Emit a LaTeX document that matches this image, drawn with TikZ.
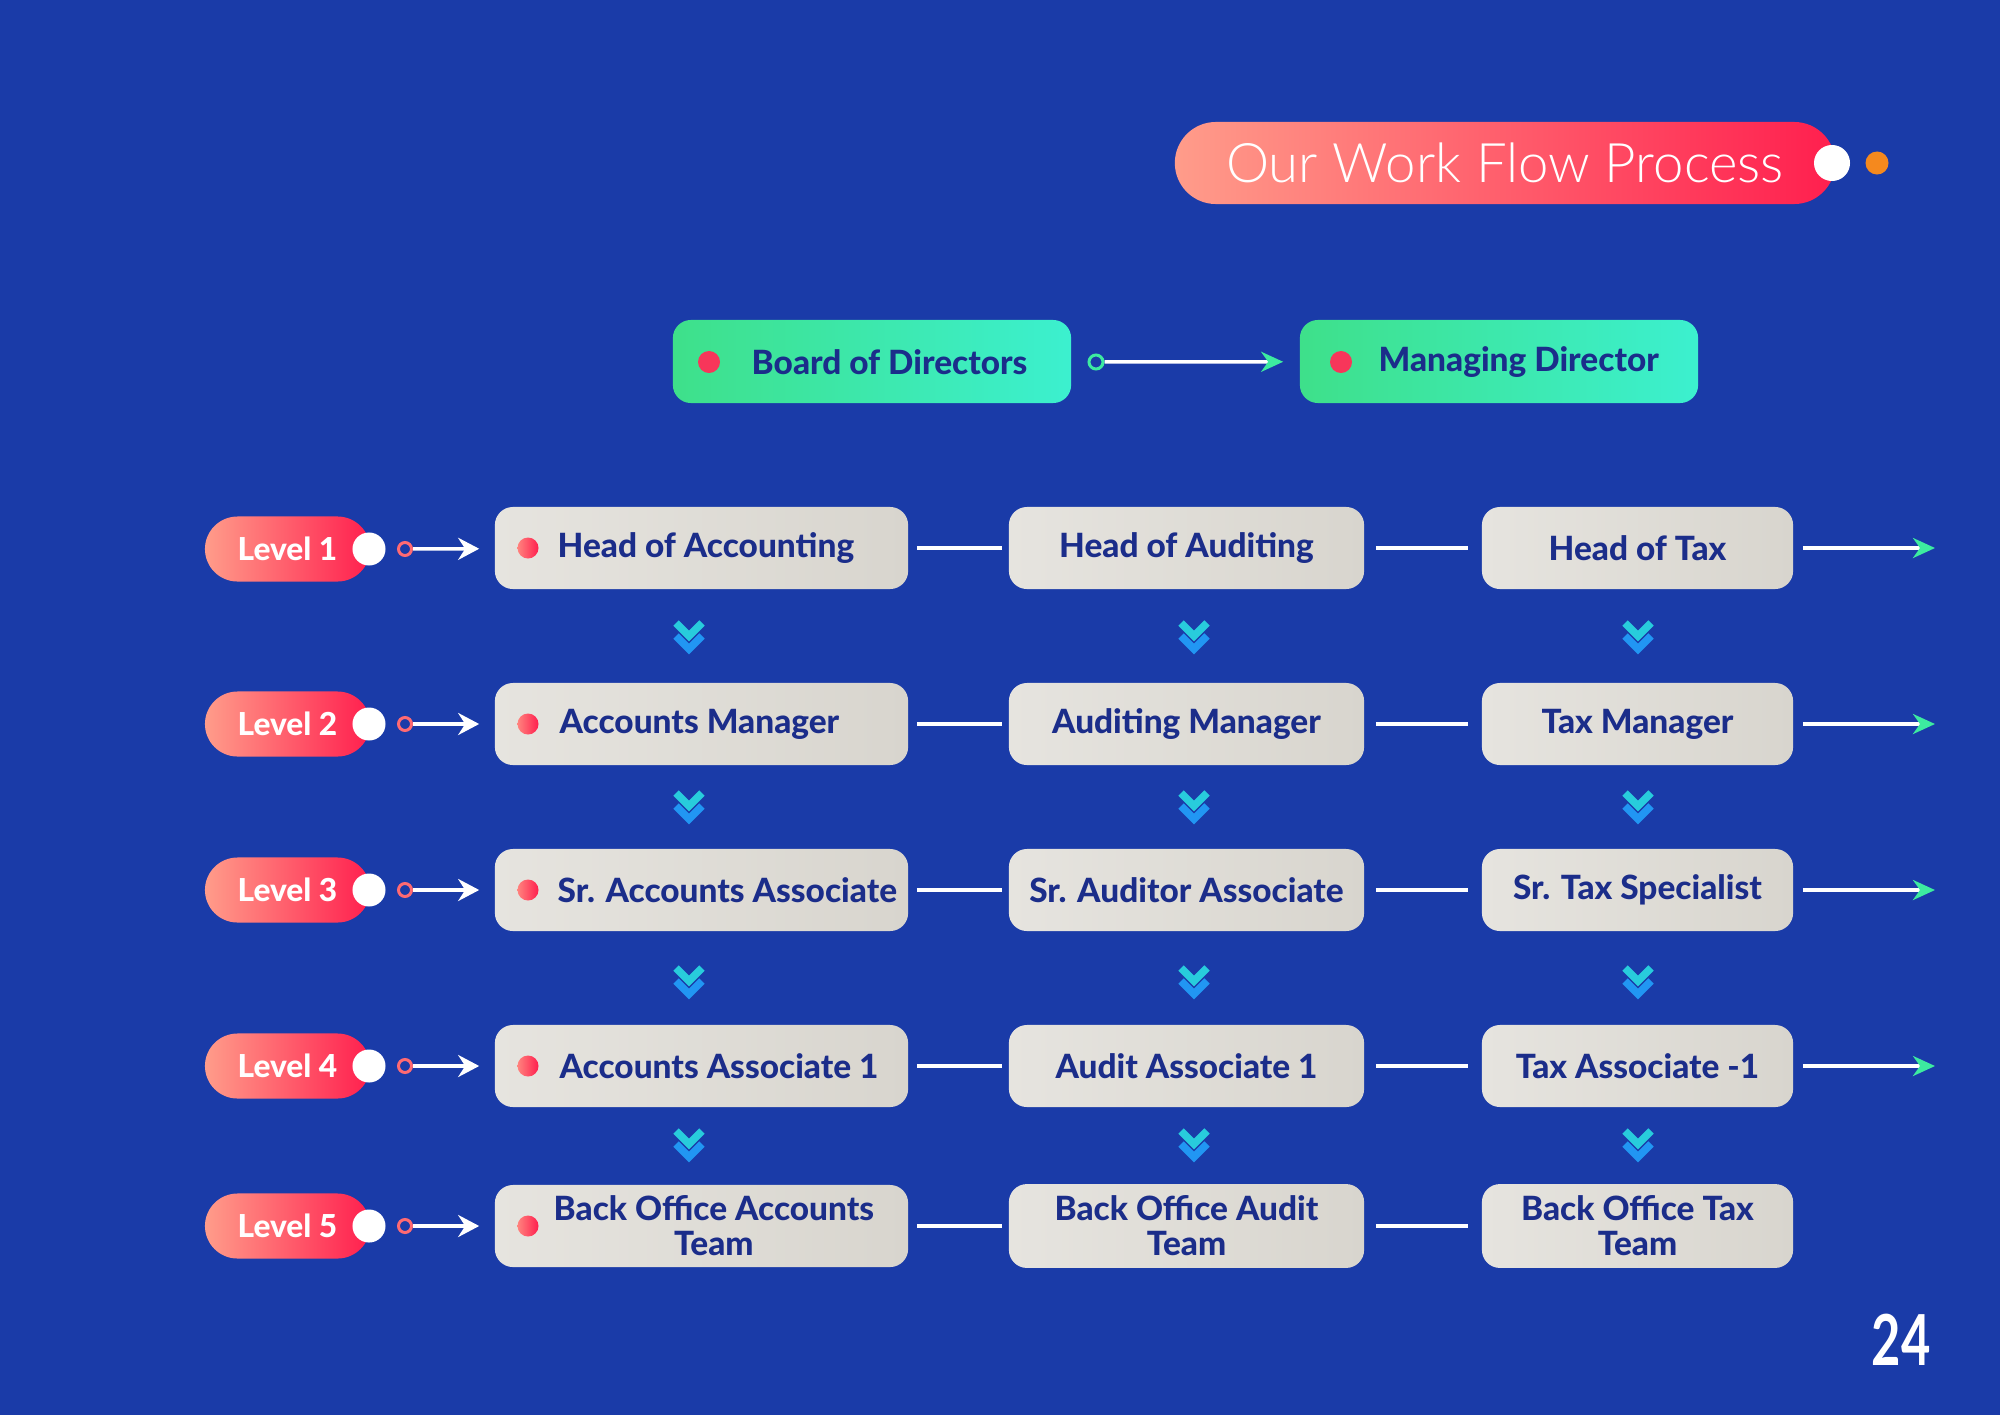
\documentclass[tikz,border=0pt]{standalone}
\usepackage{fontspec}
\setmainfont{Lato}
\IfFontExistsTF{Lato Light}{\newfontfamily\titlefont{Lato Light}}{\newfontfamily\titlefont{Lato}}
\IfFontExistsTF{Lato Heavy}{\newfontfamily\heavyfont{Lato Heavy}}{\newfontfamily\heavyfont{Lato}[UprightFont=*, UprightFeatures={FakeBold=1.2}, BoldFont=* Bold]}
\usetikzlibrary{arrows.meta}

\definecolor{bgblue}{HTML}{1A3BA8}
\definecolor{navy}{HTML}{1B2D8A}
\definecolor{boxgrayA}{HTML}{E6E4DF}
\definecolor{boxgrayB}{HTML}{D8D5CE}
\definecolor{salmon}{HTML}{FF9C8A}
\definecolor{hotred}{HTML}{FF1F4E}
\definecolor{dotred}{HTML}{F7365A}
\definecolor{mintA}{HTML}{3EE08A}
\definecolor{mintB}{HTML}{3CF0CF}
\definecolor{arrowgreen}{HTML}{3DEBA0}
\definecolor{dotorange}{HTML}{F5891E}
\definecolor{chevcyan}{HTML}{28CCDC}
\definecolor{chevblue}{HTML}{2196F3}

\tikzset{
  titlepill/.style={rectangle, rounded corners=0.41cm, minimum width=6.6cm, minimum height=0.82cm,
    left color=salmon, right color=hotred, text=white, font=\titlefont\fontsize{15.5}{18}\selectfont},
  levelpill/.style={rectangle, rounded corners=0.325cm, minimum width=1.65cm, minimum height=0.65cm,
    left color=salmon, right color=hotred, text=white, font=\heavyfont\fontsize{9}{11}\selectfont},
  greenbox/.style={rectangle, rounded corners=0.18cm, minimum width=3.98cm, minimum height=0.83cm,
    left color=mintA, right color=mintB},
  graybox/.style={rectangle, rounded corners=0.18cm, minimum height=0.82cm,
    left color=boxgrayA, right color=boxgrayB, text=navy, align=center,
    font=\heavyfont\fontsize{9.5}{10}\selectfont},
  boxtext/.style={text=navy, align=center, inner sep=0pt, font=\heavyfont\fontsize{9.5}{10}\selectfont},
  whitedot/.style={circle, fill=white, inner sep=0pt, minimum size=0.33cm},
  orangedot/.style={circle, fill=dotorange, inner sep=0pt, minimum size=0.23cm},
  reddot/.style={circle, inner sep=0pt, minimum size=0.21cm, left color=salmon!80!hotred, right color=hotred},
  flatdot/.style={circle, fill=dotred, inner sep=0pt, minimum size=0.22cm},
  redring/.style={circle, draw=salmon!60!hotred, line width=0.03cm, inner sep=0pt, minimum size=0.13cm},
  greenring/.style={circle, draw=arrowgreen, line width=0.03cm, inner sep=0pt, minimum size=0.14cm},
  link/.style={draw=white, line width=0.04cm},
  lvarrow/.style={draw=white, line width=0.035cm, -{Stealth[length=0.21cm, width=0.22cm, inset=0.07cm]}},
  greenarrow/.style={draw=white, line width=0.035cm,
    -{Stealth[length=0.22cm, width=0.2cm, inset=0.07cm, color=arrowgreen]}},
  dblchev/.pic={
    \draw[chevcyan, line width=0.075cm, line join=miter] (-13,-13) -- (0,0) -- (13,-13);
    \draw[chevblue, line width=0.075cm, line join=miter] (-13,0) -- (0,13) -- (13,0);
  }
}

\begin{document}
\begin{tikzpicture}[x=0.01cm, y=-0.01cm]
  \fill[bgblue] (0,0) rectangle (2000,1415);
  \useasboundingbox (0,0) rectangle (2000,1415);

  % title
  \node[titlepill] (title) at (1505,163) {Our Work Flow Process};
  \node[whitedot, minimum size=0.36cm] (tdot) at (1832,163) {};
  \node[orangedot] (odot) at (1877,163) {};

  % top of the chart
  \node[greenbox] (board) at (872,361.5) {};
  \node[flatdot] (bdot) at (709,362) {};
  \node[boxtext, anchor=west] (btext) at (751,362) {Board of Directors};
  \node[greenbox] (md) at (1499,361.5) {};
  \node[flatdot] (mdot) at (1341,362) {};
  \node[boxtext, anchor=west] (mtext) at (1378,362) {Managing Director};
  \node[greenring] (gring) at (1096,362) {};
  \draw[greenarrow, shorten >=0.16cm] (gring) -- (md);

  % levels
  \node[levelpill] (lv1) at (287.5,549) {Level 1};
  \node[levelpill] (lv2) at (287.5,724) {Level 2};
  \node[levelpill] (lv3) at (287.5,890) {Level 3};
  \node[levelpill] (lv4) at (287.5,1066) {Level 4};
  \node[levelpill] (lv5) at (287.5,1226) {Level 5};
  \node[whitedot] (w1) at (369,549) {};
  \node[whitedot] (w2) at (369,724) {};
  \node[whitedot] (w3) at (369,890) {};
  \node[whitedot] (w4) at (369,1066) {};
  \node[whitedot] (w5) at (369,1226) {};
  \node[redring] (r1) at (405,549) {};
  \node[redring] (r2) at (405,724) {};
  \node[redring] (r3) at (405,890) {};
  \node[redring] (r4) at (405,1066) {};
  \node[redring] (r5) at (405,1226) {};

  % accounting column
  \node[graybox, minimum width=4.13cm] (acc1) at (701.5,548) {};
  \node[graybox, minimum width=4.13cm] (acc2) at (701.5,724) {};
  \node[graybox, minimum width=4.13cm] (acc3) at (701.5,890) {};
  \node[graybox, minimum width=4.13cm] (acc4) at (701.5,1066) {};
  \node[graybox, minimum width=4.13cm] (acc5) at (701.5,1226) {};
  \node[reddot] (d1) at (528,548) {};
  \node[reddot] (d2) at (528,724) {};
  \node[reddot] (d3) at (528,890) {};
  \node[reddot] (d4) at (528,1066) {};
  \node[reddot] (d5) at (528,1226) {};
  \node[boxtext, anchor=west] (t1) at (557,548) {Head of Accounting};
  \node[boxtext, anchor=west] (t2) at (559,724) {Accounts Manager};
  \node[boxtext, anchor=west] (t3) at (557,890) {Sr. Accounts Associate};
  \node[boxtext, anchor=west] (t4) at (559,1066) {Accounts Associate 1};
  \node[boxtext, anchor=west] (t5) at (553,1226) {Back Office Accounts\\Team};

  % auditing column
  \node[graybox, minimum width=3.55cm] (aud1) at (1186.5,548) {Head of Auditing};
  \node[graybox, minimum width=3.55cm] (aud2) at (1186.5,724) {Auditing Manager};
  \node[graybox, minimum width=3.55cm] (aud3) at (1186.5,890) {Sr. Auditor Associate};
  \node[graybox, minimum width=3.55cm] (aud4) at (1186.5,1066) {Audit Associate 1};
  \node[graybox, minimum width=3.55cm] (aud5) at (1186.5,1226) {Back Office Audit\\Team};

  % tax column
  \node[graybox, minimum width=3.11cm] (tax1) at (1637.5,548) {Head of Tax};
  \node[graybox, minimum width=3.11cm] (tax2) at (1637.5,724) {Tax Manager};
  \node[graybox, minimum width=3.11cm] (tax3) at (1637.5,890) {Sr. Tax Specialist};
  \node[graybox, minimum width=3.11cm] (tax4) at (1637.5,1066) {Tax Associate -1};
  \node[graybox, minimum width=3.11cm] (tax5) at (1637.5,1226) {Back Office Tax\\Team};

  \coordinate (out1) at (1935,548);
  \coordinate (out2) at (1935,724);
  \coordinate (out3) at (1935,890);
  \coordinate (out4) at (1935,1066);

  % connectors
  \draw[lvarrow, shorten >=0.15cm] (r1) -- (acc1);
  \draw[lvarrow, shorten >=0.15cm] (r2) -- (acc2);
  \draw[lvarrow, shorten >=0.15cm] (r3) -- (acc3);
  \draw[lvarrow, shorten >=0.15cm] (r4) -- (acc4);
  \draw[lvarrow, shorten >=0.15cm] (r5) -- (acc5);

  \draw[link, shorten <=0.08cm, shorten >=0.06cm] (acc1) -- (aud1);
  \draw[link, shorten <=0.08cm, shorten >=0.06cm] (acc2) -- (aud2);
  \draw[link, shorten <=0.08cm, shorten >=0.06cm] (acc3) -- (aud3);
  \draw[link, shorten <=0.08cm, shorten >=0.06cm] (acc4) -- (aud4);
  \draw[link, shorten <=0.08cm, shorten >=0.06cm] (acc5) -- (aud5);
  \draw[link, shorten <=0.11cm, shorten >=0.13cm] (aud1) -- (tax1);
  \draw[link, shorten <=0.11cm, shorten >=0.13cm] (aud2) -- (tax2);
  \draw[link, shorten <=0.11cm, shorten >=0.13cm] (aud3) -- (tax3);
  \draw[link, shorten <=0.11cm, shorten >=0.13cm] (aud4) -- (tax4);
  \draw[link, shorten <=0.11cm, shorten >=0.13cm] (aud5) -- (tax5);

  \draw[greenarrow, shorten <=0.09cm] (tax1) -- (out1);
  \draw[greenarrow, shorten <=0.09cm] (tax2) -- (out2);
  \draw[greenarrow, shorten <=0.09cm] (tax3) -- (out3);
  \draw[greenarrow, shorten <=0.09cm] (tax4) -- (out4);

  % chevrons between the levels
  \pic at (689,636) {dblchev};
  \pic at (1194,636) {dblchev};
  \pic at (1638,636) {dblchev};
  \pic at (689,806) {dblchev};
  \pic at (1194,806) {dblchev};
  \pic at (1638,806) {dblchev};
  \pic at (689,981) {dblchev};
  \pic at (1194,981) {dblchev};
  \pic at (1638,981) {dblchev};
  \pic at (689,1144) {dblchev};
  \pic at (1194,1144) {dblchev};
  \pic at (1638,1144) {dblchev};

  % page number
  \node[text=white, font=\bfseries\fontsize{20}{24}\selectfont] (page) at (1901,1340) {\scalebox{0.72}[1]{24}};
\end{tikzpicture}
\end{document}
